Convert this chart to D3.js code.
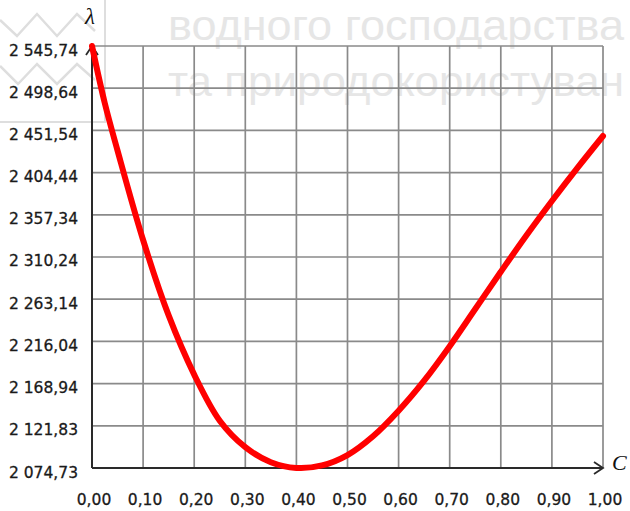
<!DOCTYPE html>
<html>
<head>
<meta charset="utf-8">
<script src="https://cdn.jsdelivr.net/npm/d3@7"></script>
<style>
  html, body { margin: 0; padding: 0; background: #fff; }
  svg { display: block; }
</style>
</head>
<body>
<svg id="chart" width="630" height="511"></svg>
<script>
// Concentration C and the resulting coefficient λ
const cValues = [0.00, 0.025, 0.05, 0.10, 0.15, 0.20, 0.25, 0.30, 0.35, 0.40, 0.45, 0.50, 0.55, 0.60, 0.65, 0.70, 0.75, 0.80, 0.85, 0.90, 0.95, 1.00];
const lambdaValues = [2545.74, 2482.0, 2429.0, 2329.2, 2245.0, 2179.0, 2127.5, 2098.0, 2081.2, 2074.8, 2077.6, 2089.2, 2110.2, 2138.7, 2172.2, 2210.7, 2252.2, 2293.7, 2334.2, 2372.7, 2409.7, 2445.3];

const xTickValues = [0, 0.1, 0.2, 0.3, 0.4, 0.5, 0.6, 0.7, 0.8, 0.9, 1.0];
const xTickLabels = ["0,00", "0,10", "0,20", "0,30", "0,40", "0,50", "0,60", "0,70", "0,80", "0,90", "1,00"];
const yTickValues = [2074.73, 2121.83, 2168.94, 2216.04, 2263.14, 2310.24, 2357.34, 2404.44, 2451.54, 2498.64, 2545.74];
const yTickLabels = ["2 074,73", "2 121,83", "2 168,94", "2 216,04", "2 263,14", "2 310,24", "2 357,34", "2 404,44", "2 451,54", "2 498,64", "2 545,74"];

const watermarkLines = ["водного господарства", "та природокористуван"];

const svg = d3.select("#chart");
const plot = { left: 92, right: 603, top: 46, bottom: 468 };

const x = d3.scaleLinear().domain([0, 1]).range([plot.left, plot.right]);
const y = d3.scaleLinear().domain([yTickValues[0], yTickValues[yTickValues.length - 1]]).range([plot.bottom, plot.top]);

// Faint background watermark
const wm = svg.append("g").attr("class", "watermark");
wm.append("path")
  .attr("d", "M105,0 L105,122 L0,122")
  .attr("fill", "none").attr("stroke", "#dedede").attr("stroke-width", 2);
wm.append("path")
  .attr("d", "M0,20 L17,36 L37,14 L57,36 L77,14 L95,31")
  .attr("fill", "none").attr("stroke", "#dedede").attr("stroke-width", 2.5);
wm.append("path")
  .attr("d", "M0,66 L18,84 L37,64 L57,84 L77,64 L95,80")
  .attr("fill", "none").attr("stroke", "#dedede").attr("stroke-width", 2.5);
wm.selectAll("text.wm")
  .data(watermarkLines)
  .join("text")
  .attr("class", "wm")
  .attr("x", 168)
  .attr("y", (d, i) => 40 + i * 56)
  .attr("font-family", "Liberation Sans, Arial, sans-serif")
  .attr("font-size", 43)
  .attr("textLength", 456)
  .attr("lengthAdjust", "spacingAndGlyphs")
  .attr("fill", "#e6e6e6")
  .text(d => d);

// Grid
const grid = svg.append("g").attr("class", "grid");
grid.selectAll("line.gx")
  .data(xTickValues.slice(1))
  .join("line")
  .attr("class", "gx")
  .attr("x1", d => x(d)).attr("x2", d => x(d))
  .attr("y1", plot.top).attr("y2", plot.bottom)
  .attr("stroke", "#8a8a8a").attr("stroke-width", 1.7);
grid.selectAll("line.gy")
  .data(yTickValues.slice(1))
  .join("line")
  .attr("class", "gy")
  .attr("x1", plot.left).attr("x2", plot.right)
  .attr("y1", d => y(d)).attr("y2", d => y(d))
  .attr("stroke", "#8a8a8a").attr("stroke-width", 1.7);

// Axes with arrowheads
const axes = svg.append("g").attr("class", "axes");
axes.append("line")
  .attr("x1", plot.left).attr("x2", plot.right)
  .attr("y1", plot.bottom).attr("y2", plot.bottom)
  .attr("stroke", "#2a2a2a").attr("stroke-width", 2);
axes.append("line")
  .attr("x1", plot.left).attr("x2", plot.left)
  .attr("y1", plot.top).attr("y2", plot.bottom)
  .attr("stroke", "#2a2a2a").attr("stroke-width", 2);
axes.append("path")
  .attr("d", `M${plot.right - 9},${plot.bottom - 6} L${plot.right},${plot.bottom} L${plot.right - 9},${plot.bottom + 6}`)
  .attr("fill", "none").attr("stroke", "#2a2a2a").attr("stroke-width", 1.8);
axes.append("path")
  .attr("d", `M${plot.left - 6},${plot.top + 9} L${plot.left},${plot.top} L${plot.left + 6},${plot.top + 9}`)
  .attr("fill", "none").attr("stroke", "#2a2a2a").attr("stroke-width", 1.8);

// Tick labels
const tickFont = "DejaVu Sans, Verdana, sans-serif";
svg.append("g").selectAll("text")
  .data(xTickValues)
  .join("text")
  .attr("x", d => x(d) + 2)
  .attr("y", 505)
  .attr("text-anchor", "middle")
  .attr("font-family", tickFont)
  .attr("font-size", 15.5)
  .attr("fill", "#1a1a1a")
  .attr("stroke", "#1a1a1a").attr("stroke-width", 0.3)
  .text((d, i) => xTickLabels[i]);
svg.append("g").selectAll("text")
  .data(yTickValues)
  .join("text")
  .attr("x", 78)
  .attr("y", d => y(d) + 9.5)
  .attr("text-anchor", "end")
  .attr("font-family", tickFont)
  .attr("font-size", 15.5)
  .attr("fill", "#1a1a1a")
  .attr("stroke", "#1a1a1a").attr("stroke-width", 0.3)
  .text((d, i) => yTickLabels[i]);

// Axis names
svg.append("text")
  .attr("x", 90).attr("y", 24)
  .attr("text-anchor", "middle")
  .attr("font-family", "Liberation Serif, Times New Roman, serif")
  .attr("font-style", "italic")
  .attr("font-size", 23)
  .attr("fill", "#111")
  .text("λ");
svg.append("text")
  .attr("x", 612).attr("y", 470)
  .attr("font-family", "Liberation Serif, Times New Roman, serif")
  .attr("font-style", "italic")
  .attr("font-size", 22)
  .attr("fill", "#111")
  .text("C");

// λ(C) curve
const line = d3.line()
  .x((d, i) => x(cValues[i]))
  .y(d => y(d))
  .curve(d3.curveCatmullRom.alpha(0.5));
svg.append("path")
  .datum(lambdaValues)
  .attr("d", line)
  .attr("fill", "none")
  .attr("stroke", "#ff0000")
  .attr("stroke-width", 6)
  .attr("stroke-linecap", "round")
  .attr("stroke-linejoin", "round");
</script>
</body>
</html>
